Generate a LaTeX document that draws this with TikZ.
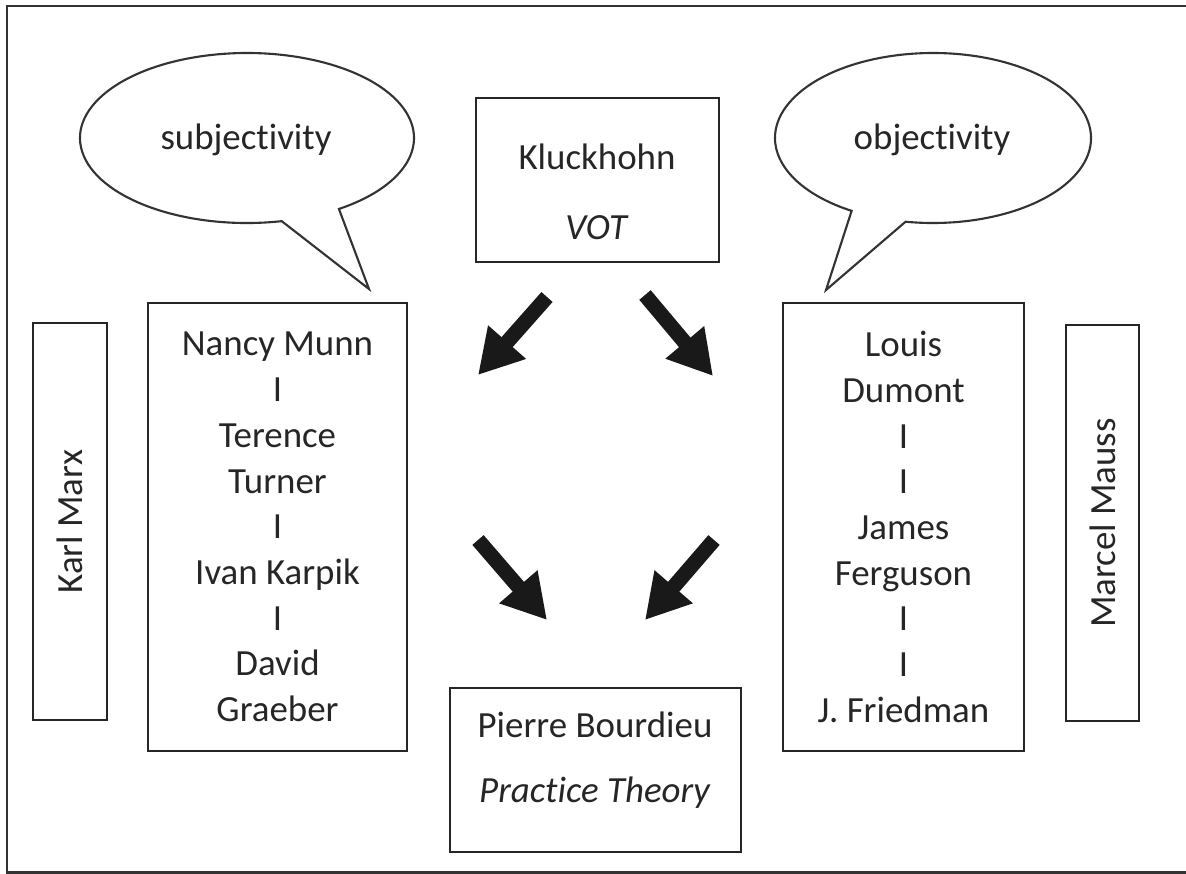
\documentclass[tikz,border=0pt]{standalone}
\usepackage{fontspec}
\setmainfont{Carlito}[Ligatures={NoCommon,NoRare,NoContextual}]
\usetikzlibrary{arrows.meta,positioning}

\begin{document}
\begin{tikzpicture}[x=0.02cm, y=-0.02cm,
    every node/.style={font=\fontsize{21}{26}\selectfont, text=black!85},
    box/.style={draw=black!85, line width=1.4pt, inner sep=0pt, align=center},
    bubble/.style={draw=black!80, line width=1.2pt, line join=miter},
    fatarrow/.style={line width=8.5pt, black!90, -{Triangle[width=27pt, length=25pt]}}]
        \useasboundingbox (0,0) rectangle (1186,873);
        \draw[line width=1.7pt, black!80] (7,6) rectangle (1210,872);

        \coordinate (subjc) at (247,138);
        \coordinate (subjtip) at (369,289);
        \coordinate (objc) at (933,138);
        \coordinate (objtip) at (826,290);
        \draw[bubble] (subjc) ++(78:167 and 85) arc[start angle=78, end angle=416.6, x radius=167, y radius=85] -- (subjtip) -- cycle;
        \draw[bubble] (objc) ++(121:158 and 85) arc[start angle=121, end angle=460, x radius=158, y radius=85] -- (objtip) -- cycle;
        \node (subj) at (246,140) {subjectivity};
        \node (obj) at (932,140) {objectivity};

        \node[box, minimum width=4.86cm, minimum height=3.28cm] (kluck) at (597.5,180) {};
        \node[align=center] (klucktext) at (597,192) {Kluckhohn\\[14pt]\textit{VOT}};
        \node[box, minimum width=5.82cm, minimum height=3.28cm] (bourdieu) at (595.5,770) {};
        \node[align=center] (bourdieutext) at (595,760) {Pierre Bourdieu\\[11pt]\textit{Practice Theory}};

        \node[box, minimum width=5.18cm, minimum height=8.96cm] (munn) at (277.5,527)
            {Nancy Munn\\I\\Terence\\Turner\\I\\Ivan Karpik\\I\\David\\Graeber};
        \node[box, minimum width=4.82cm, minimum height=8.96cm] (dumont) at (903.5,527)
            {Louis\\Dumont\\I\\I\\James\\Ferguson\\I\\I\\J. Friedman};
        \node[box, rotate=90, minimum width=7.94cm, minimum height=1.48cm] (marx) at (70,521.5) {Karl Marx};
        \node[box, rotate=90, minimum width=7.92cm, minimum height=1.46cm] (mauss) at (1102.5,523) {Marcel Mauss};

        \coordinate (a1s) at (547,297);
        \coordinate (a1e) at (478,375);
        \coordinate (a2s) at (645,295);
        \coordinate (a2e) at (713,376);
        \coordinate (a3s) at (478,540);
        \coordinate (a3e) at (547,620);
        \coordinate (a4s) at (714,540);
        \coordinate (a4e) at (645,620);
        \draw[fatarrow] (a1s) -- (a1e);
        \draw[fatarrow] (a2s) -- (a2e);
        \draw[fatarrow] (a3s) -- (a3e);
        \draw[fatarrow] (a4s) -- (a4e);
\end{tikzpicture}
\end{document}
